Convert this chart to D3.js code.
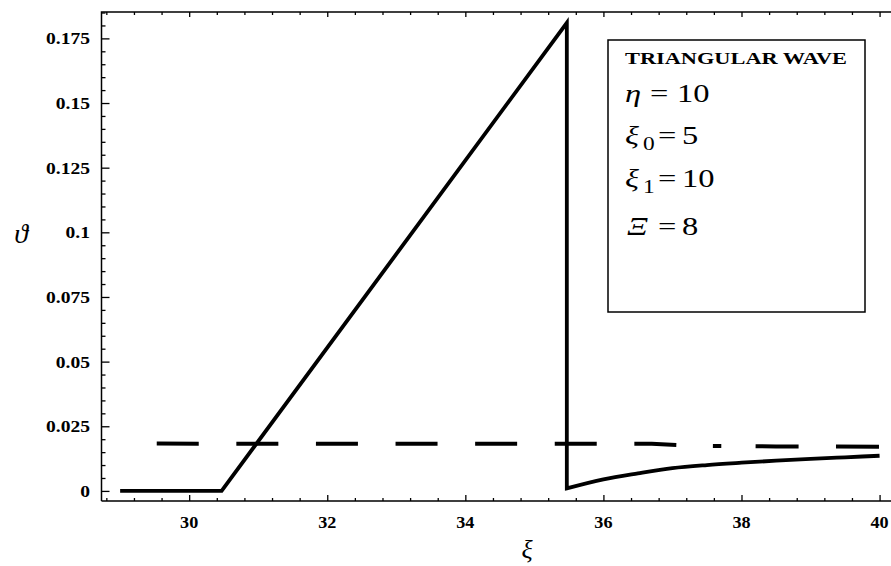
<!DOCTYPE html>
<html>
<head>
<meta charset="utf-8">
<script src="https://cdn.jsdelivr.net/npm/d3@7"></script>
<style>
  html, body { margin: 0; padding: 0; background: #fff; }
  svg { display: block; }
</style>
</head>
<body>
<svg id="chart" width="891" height="566" font-family="'Liberation Serif', 'Times New Roman', 'DejaVu Serif', serif"></svg>
<script>
// ── Data ─────────────────────────────────────────────────────────────────────
// solid curve: flat, linear ramp, sudden drop, slow recovery
const SOLID_X = [29, 30.47, 35.47, 35.47, 36.0, 36.5, 37.0, 37.5, 38.0, 38.5, 39.0, 39.5, 40.0];
const SOLID_Y = [0, 0, 0.181, 0.001, 0.0045, 0.0068, 0.0088, 0.0100, 0.0109, 0.0117, 0.0124, 0.0130, 0.0136];
const DROP_INDEX = 3;   // ramp is straight up to here, recovery is smooth after
// dashed curve: near-constant level
const DASH_X = [29, 36.7, 37.4, 38.5, 40.0];
const DASH_Y = [0.0183, 0.0182, 0.0174, 0.0172, 0.0171];

const X_TICKS  = [30, 32, 34, 36, 38, 40];
const Y_TICKS  = [0, 0.025, 0.05, 0.075, 0.1, 0.125, 0.15, 0.175];
const Y_LABELS = ['0', '0.025', '0.05', '0.075', '0.1', '0.125', '0.15', '0.175'];

const LEGEND_TITLE = 'TRIANGULAR WAVE';
const LEGEND_ROWS = [
  { sym: 'η', sub: null, val: '10' },
  { sym: 'ξ', sub: '0',  val: '5'  },
  { sym: 'ξ', sub: '1',  val: '10' },
  { sym: 'Ξ', sub: null, val: '8'  },
];

// ── Layout ───────────────────────────────────────────────────────────────────
const PLOT = { left: 101.5, right: 892, top: 12, bottom: 501 };
const X_DOMAIN = [28.73, 40.18];
const Y_DOMAIN = [-0.0039, 0.1852];

const svg = d3.select('#chart');
const x = d3.scaleLinear().domain(X_DOMAIN).range([PLOT.left, PLOT.right]);
const y = d3.scaleLinear().domain(Y_DOMAIN).range([PLOT.bottom, PLOT.top]);

// the scanned print is a bit wider than tall: text gets a horizontal stretch
function wideText(g, tx, ty, size, str, sx, anchor) {
  return g.append('text')
    .attr('transform', `translate(${tx},${ty}) scale(${sx},1)`)
    .attr('text-anchor', anchor || 'start')
    .attr('font-size', size)
    .text(str);
}

// ── Frame + ticks (Mathematica style, ticks inside) ──────────────────────────
svg.append('path')
  .attr('d', `M${PLOT.left},${PLOT.bottom}V${PLOT.top}H${PLOT.right}M${PLOT.left},${PLOT.bottom}H${PLOT.right}`)
  .attr('stroke', '#000').attr('stroke-width', 1.5).attr('fill', 'none');

const xMinor = d3.range(28.8, 40.2, 0.4).filter(v => !X_TICKS.some(t => Math.abs(t - v) < 1e-6));
const yMinor = d3.range(0, 0.1851, 0.005).filter(v => !Y_TICKS.some(t => Math.abs(t - v) < 1e-6));

const bottomAxis  = d3.axisBottom(x).tickValues(X_TICKS).tickSize(-6).tickFormat('').tickSizeOuter(0);
const bottomMinor = d3.axisBottom(x).tickValues(xMinor).tickSize(-3).tickFormat('').tickSizeOuter(0);
const topAxis     = d3.axisTop(x).tickValues(X_TICKS).tickSize(-5).tickFormat('').tickSizeOuter(0);
const topMinor    = d3.axisTop(x).tickValues(xMinor).tickSize(-3).tickFormat('').tickSizeOuter(0);
const leftAxis    = d3.axisLeft(y).tickValues(Y_TICKS).tickSize(-8).tickFormat('').tickSizeOuter(0);
const leftMinor   = d3.axisLeft(y).tickValues(yMinor).tickSize(-4).tickFormat('').tickSizeOuter(0);

[[bottomAxis, PLOT.bottom, 'x'], [bottomMinor, PLOT.bottom, 'x'],
 [topAxis, PLOT.top, 'x'], [topMinor, PLOT.top, 'x'],
 [leftAxis, PLOT.left, 'y'], [leftMinor, PLOT.left, 'y']].forEach(([ax, pos, dir]) => {
  const g = svg.append('g')
    .attr('transform', dir === 'x' ? `translate(0,${pos})` : `translate(${pos},0)`)
    .call(ax);
  g.select('.domain').remove();
  g.selectAll('line').attr('stroke', '#000').attr('stroke-width', 1.3);
});

// tick labels
const xLab = svg.append('g').attr('font-weight', 'bold');
X_TICKS.forEach(t => wideText(xLab, x(t), 528, 17, t, 1.07, 'middle'));

const yLab = svg.append('g').attr('font-weight', 'bold');
Y_TICKS.forEach((t, i) => wideText(yLab, 90, y(t) + 6, 17, Y_LABELS[i], 1.15, 'end'));

// axis titles
svg.append('text').attr('x', 527).attr('y', 558)
  .attr('text-anchor', 'middle').attr('font-size', 26).attr('font-style', 'italic')
  .text('ξ');
svg.append('text').attr('x', 21).attr('y', 243)
  .attr('text-anchor', 'middle').attr('font-size', 28).attr('font-style', 'italic')
  .text('ϑ');

// ── Curves ───────────────────────────────────────────────────────────────────
const pts = (xs, ys) => xs.map((v, i) => [v, ys[i]]);
const line = d3.line().x(d => x(d[0])).y(d => y(d[1]));
const smooth = d3.line().x(d => x(d[0])).y(d => y(d[1])).curve(d3.curveMonotoneX);

// dash pattern copied from the print (regular dashes, broken near the end)
const dashPattern = ['0 36.6'].concat(d3.range(6).map(() => '42 37.6'),
  ['42 36.6 8.4 34.3 43 37.4 43 200']).join(' ');

svg.append('path')
  .datum(pts(DASH_X, DASH_Y))
  .attr('d', line)
  .attr('fill', 'none').attr('stroke', '#000').attr('stroke-width', 4)
  .attr('stroke-dasharray', dashPattern);

const solid = pts(SOLID_X, SOLID_Y);
const solidD = line(solid.slice(0, DROP_INDEX + 1)) + smooth(solid.slice(DROP_INDEX)).replace(/^M/, 'L');
svg.append('path')
  .attr('d', solidD)
  .attr('fill', 'none').attr('stroke', '#000').attr('stroke-width', 3.8)
  .attr('stroke-linejoin', 'miter');

// ── Legend box ───────────────────────────────────────────────────────────────
const lg = svg.append('g');
lg.append('rect')
  .attr('x', 608).attr('y', 40).attr('width', 257).attr('height', 272)
  .attr('fill', '#fff').attr('stroke', '#000').attr('stroke-width', 1.5);

lg.append('text')
  .attr('x', 625).attr('y', 64)
  .attr('font-size', 16).attr('font-weight', 'bold')
  .attr('textLength', 222).attr('lengthAdjust', 'spacingAndGlyphs')
  .text(LEGEND_TITLE);

const rowBase = [102, 144, 187, 235];
const LEG_SX = 1.3;
LEGEND_ROWS.forEach((r, i) => {
  const by = rowBase[i];
  const eqX = r.sub || r.sym === 'Ξ' ? 658 : 650;
  const valX = r.sub || r.sym === 'Ξ' ? 682 : 677;
  wideText(lg, r.sym === 'Ξ' ? 627 : 625, by, 25, r.sym, LEG_SX).attr('font-style', 'italic');
  if (r.sub) wideText(lg, 643, by + 6, 18, r.sub, LEG_SX);
  wideText(lg, eqX, by, 25, '=', LEG_SX);
  wideText(lg, valX, by, 25, r.val, LEG_SX);
});
</script>
</body>
</html>
